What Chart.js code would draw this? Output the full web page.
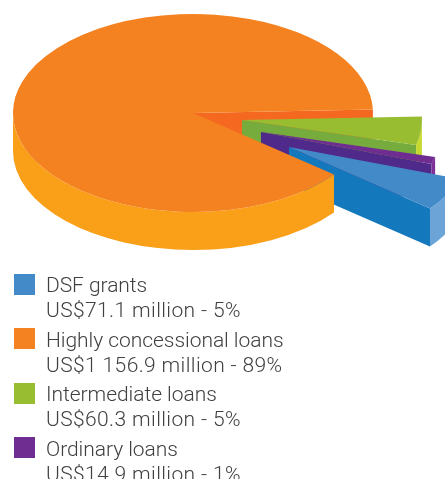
<!DOCTYPE html>
<html>
<head>
<meta charset="utf-8">
<script src="https://cdn.jsdelivr.net/npm/chart.js@4"></script>
<style>
    html, body { margin: 0; padding: 0; background: #fff; overflow: hidden; }
    #wrap { position: relative; width: 445px; height: 479px; overflow: hidden; }
    #chart { position: absolute; left: 0; top: 0; }
    .swatch { position: absolute; left: 14px; width: 21px; height: 21px; }
    .label { position: absolute; left: 46px; font: 300 21px/24.5px Roboto, sans-serif; color: #404042; white-space: nowrap; letter-spacing: -0.05px; }
    .label span { letter-spacing: 0.38px; }
</style>
</head>
<body>
<div id="wrap">
    <canvas id="chart" width="445" height="479"></canvas>
</div>
<script>
var categories = ['DSF grants', 'Highly concessional loans', 'Intermediate loans', 'Ordinary loans'];
var amounts = [71.1, 1156.9, 60.3, 14.9];
var amountLabels = ['US$71.1 million - 5%', 'US$1 156.9 million - 89%', 'US$60.3 million - 5%', 'US$14.9 million - 1%'];

var topColors = ['#428bc8', '#f58220', '#98bd31', '#6f2c91'];
var innerColors = ['#1478bc', '#f4691f', '#76ac3d', '#4f2a8a'];
var rimColors = ['#6ca4d8', '#fa9f18', '#c7d92e', '#7d3194'];
var shifts = [[96, 34], [0, 0], [49, 7], [68, 19]];
var swatchTops = [274, 328, 383, 437];
var labelTops = [273, 328, 382, 437];

var squash = 0.55;
var depth = 38;
var centerY = 113;

// the pie is laid flat with a canvas transform, then walls are painted under each top
function drawWalls(ctx, arc, i) {
    var rx = arc.outerRadius, ry = rx * squash;
    var cx = arc.x + shifts[i][0], cy = centerY + shifts[i][1];
    var a0 = arc.startAngle, a1 = arc.endAngle;

    if (i == 1) {
        // front rim only, the cut face is painted first in drawBackCut
        ctx.fillStyle = rimColors[i];
        ctx.beginPath();
        ctx.ellipse(cx, cy, rx, ry, 0, a0, Math.PI);
        ctx.ellipse(cx, cy + depth, rx, ry, 0, Math.PI, a0, true);
        ctx.closePath();
        ctx.fill();
        return;
    }
    ctx.fillStyle = innerColors[i];
    ctx.beginPath();
    ctx.moveTo(cx, cy);
    ctx.lineTo(cx + Math.cos(a1) * rx, cy + Math.sin(a1) * ry);
    ctx.lineTo(cx + Math.cos(a1) * rx, cy + Math.sin(a1) * ry + depth);
    ctx.lineTo(cx, cy + depth);
    ctx.closePath();
    ctx.fill();

    ctx.fillStyle = rimColors[i];
    ctx.beginPath();
    ctx.ellipse(cx, cy, rx, ry, 0, a0, a1);
    ctx.ellipse(cx, cy + depth, rx, ry, 0, a1, a0, true);
    ctx.closePath();
    ctx.fill();
}

function drawBackCut(ctx, arc) {
    var rx = arc.outerRadius, ry = rx * squash;
    var ex = arc.x + Math.cos(arc.endAngle) * rx, ey = centerY + Math.sin(arc.endAngle) * ry;
    ctx.fillStyle = innerColors[1];
    ctx.beginPath();
    ctx.moveTo(arc.x, centerY);
    ctx.lineTo(ex, ey);
    ctx.lineTo(ex, ey + depth);
    ctx.lineTo(arc.x, centerY + depth);
    ctx.closePath();
    ctx.fill();
}

function drawTop(ctx, arc, i) {
    ctx.save();
    ctx.translate(shifts[i][0], centerY + shifts[i][1]);
    ctx.scale(1, squash);
    ctx.translate(0, -arc.y);
    arc.draw(ctx);
    ctx.restore();
}

var tiltPlugin = {
    id: 'tilt',
    beforeDatasetDraw: function (chart, args) {
        var ctx = chart.ctx;
        var arcs = args.meta.data;
        drawBackCut(ctx, arcs[1]);
        // back to front: the big slice goes last because it overlaps the others
        [2, 3, 0, 1].forEach(function (i) {
            drawWalls(ctx, arcs[i], i);
            drawTop(ctx, arcs[i], i);
        });
        return false;
    }
};

new Chart(document.getElementById('chart'), {
    type: 'pie',
    data: {
        labels: categories,
        datasets: [{ data: amounts, backgroundColor: topColors, borderWidth: 0 }]
    },
    options: {
        responsive: false,
        animation: false,
        rotation: 108.8,
        layout: { padding: { left: 13, right: 72, top: 0, bottom: 119 } },
        plugins: { legend: { display: false }, tooltip: { enabled: false } }
    },
    plugins: [tiltPlugin]
});

var wrap = document.getElementById('wrap');
categories.forEach(function (name, i) {
    var box = document.createElement('div');
    box.className = 'swatch';
    box.style.top = swatchTops[i] + 'px';
    box.style.background = topColors[i];
    wrap.appendChild(box);

    var txt = document.createElement('div');
    txt.className = 'label';
    txt.style.top = labelTops[i] + 'px';
    txt.innerHTML = name + '<br><span>' + amountLabels[i] + '</span>';
    wrap.appendChild(txt);
});
</script>
</body>
</html>
